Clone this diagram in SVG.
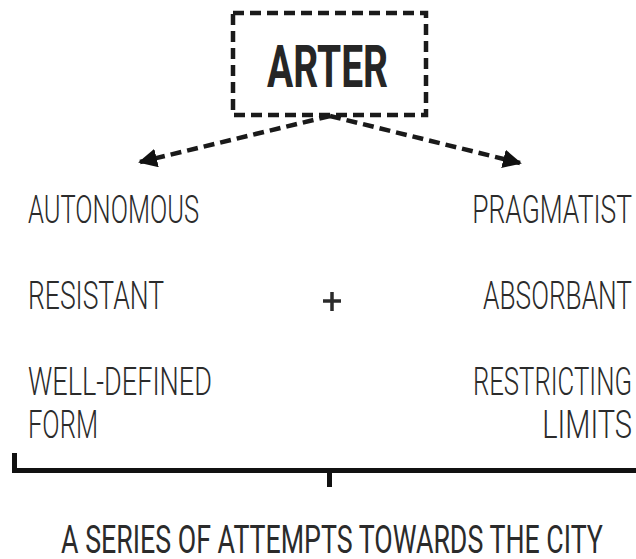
<svg xmlns="http://www.w3.org/2000/svg" width="636" height="559" viewBox="0 0 636 559">
<defs>
<style>
.lbl{font-family:Roboto,"Liberation Sans",sans-serif;font-weight:300;font-size:39px;fill:#2b2b2b}
.r{text-anchor:end}
.title{font-family:Roboto,"Liberation Sans",sans-serif;font-weight:700;font-size:59px;fill:#262626;text-anchor:middle}
.foot{font-family:Roboto,"Liberation Sans",sans-serif;font-weight:400;font-size:38px;fill:#2b2b2b;text-anchor:middle}
.dash{fill:none;stroke:#1a1a1a;stroke-width:4.5;stroke-dasharray:11 6}
.solid{fill:none;stroke:#111;stroke-width:5}
</style>
<marker id="ah" viewBox="0 0 10 10" refX="9" refY="5" markerWidth="4.2" markerHeight="4.2" markerUnits="strokeWidth" orient="auto">
<path d="M0,0 L10,5 L0,10 z" fill="#111"/>
</marker>
</defs>
<rect width="636" height="559" fill="#fff"/>
<g id="arter">
<rect class="dash" x="233" y="13" width="193" height="102"/>
<text class="title" x="327.5" y="87" textLength="121" lengthAdjust="spacingAndGlyphs">ARTER</text>
</g>
<g id="connectors">
<path class="dash" d="M330,116 L140,162" marker-end="url(#ah)"/>
<path class="dash" d="M330,116 L520,163" marker-end="url(#ah)"/>
<path class="solid" d="M14.5,453 V470.5 H636 M329.5,470.5 V487"/>
</g>
<g id="left">
<text class="lbl" x="28" y="223" textLength="171" lengthAdjust="spacingAndGlyphs">AUTONOMOUS</text>
<text class="lbl" x="28" y="309" textLength="136" lengthAdjust="spacingAndGlyphs">RESISTANT</text>
<text class="lbl" x="28" y="395" textLength="184" lengthAdjust="spacingAndGlyphs">WELL-DEFINED</text>
<text class="lbl" x="28" y="438" textLength="70" lengthAdjust="spacingAndGlyphs">FORM</text>
</g>
<g id="plus">
<path d="M323,301 H341 M332,292 V311" stroke="#2b2b2b" stroke-width="3.5" fill="none"/>
</g>
<g id="right">
<text class="lbl r" transform="translate(632,223) scale(0.68,1)" textLength="235" lengthAdjust="spacingAndGlyphs">PRAGMATIST</text>
<text class="lbl r" transform="translate(632,309) scale(0.68,1)" textLength="219" lengthAdjust="spacingAndGlyphs">ABSORBANT</text>
<text class="lbl r" transform="translate(632,395) scale(0.68,1)" textLength="234" lengthAdjust="spacingAndGlyphs">RESTRICTING</text>
<text class="lbl r" transform="translate(632,438) scale(0.68,1)" textLength="132" lengthAdjust="spacingAndGlyphs">LIMITS</text>
</g>
<g id="result">
<text class="foot" transform="translate(332,553) scale(0.7,1)" textLength="774" lengthAdjust="spacingAndGlyphs">A SERIES OF ATTEMPTS TOWARDS THE CITY</text>
</g>
</svg>
